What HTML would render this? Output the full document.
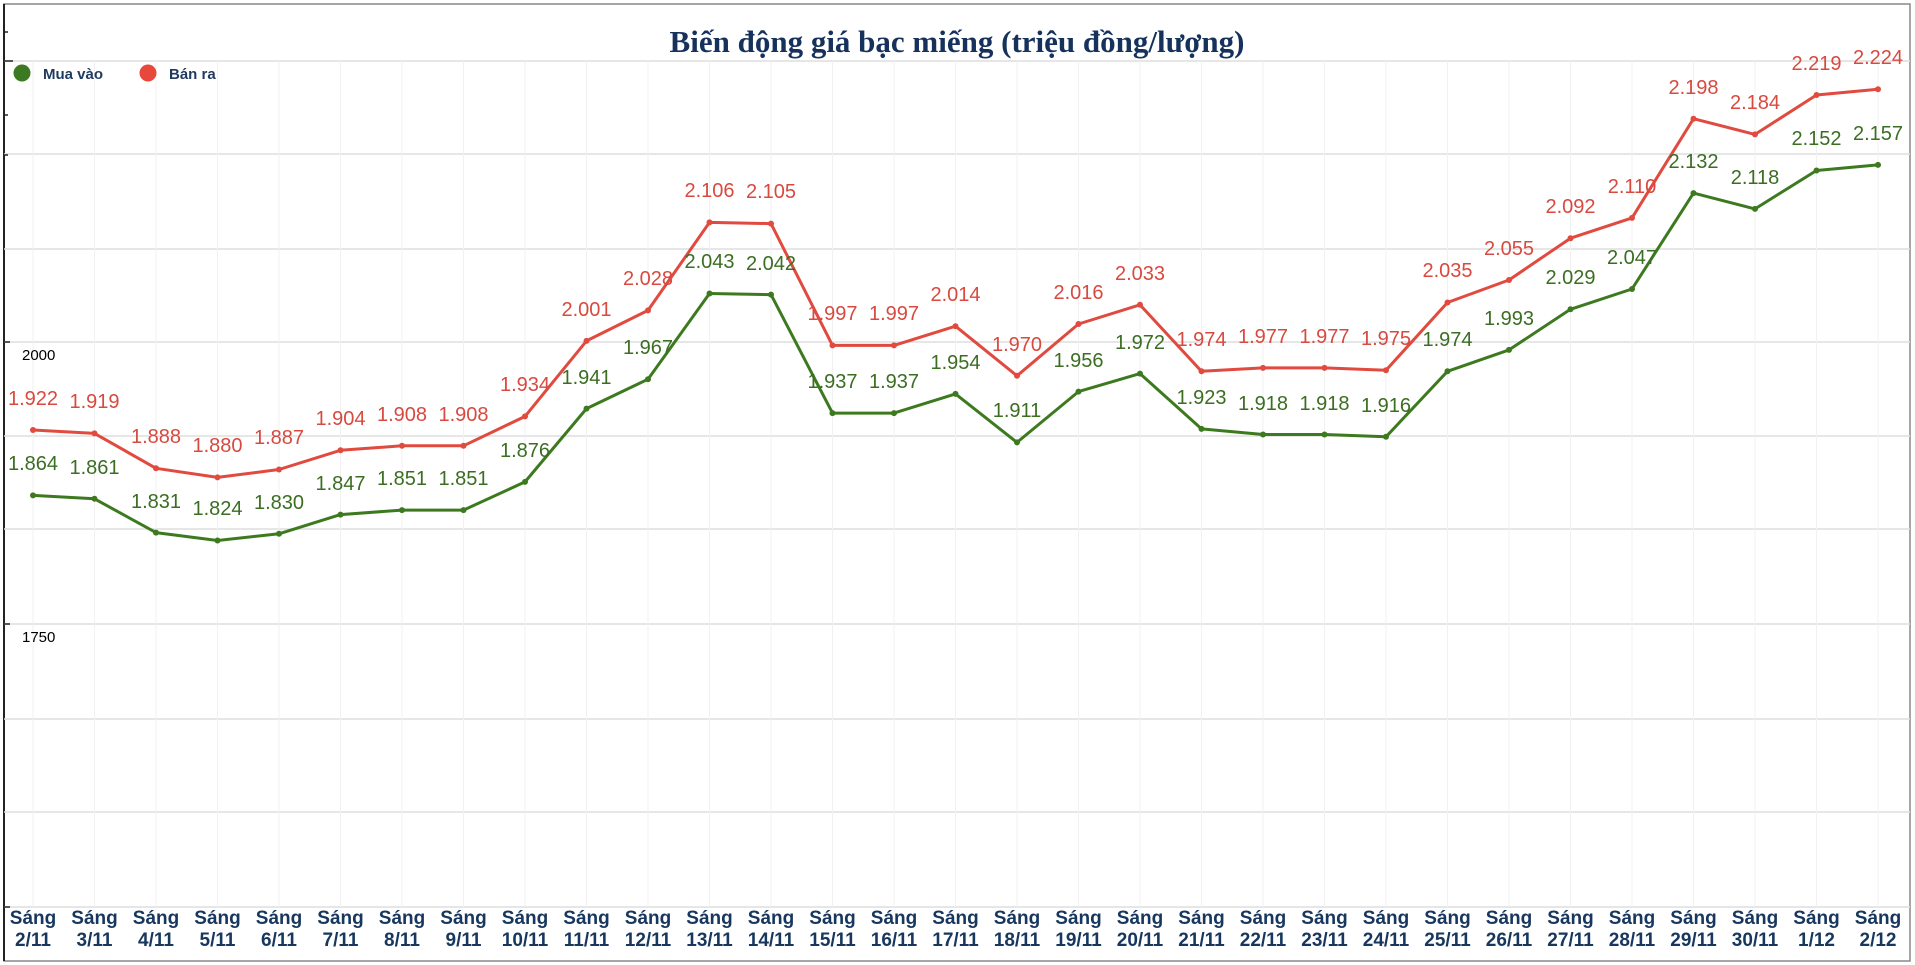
<!DOCTYPE html>
<html><head><meta charset="utf-8"><style>
html,body{margin:0;padding:0;background:#fff;width:1915px;height:965px;overflow:hidden}
svg{display:block}
.t{font-family:"Liberation Serif",serif;font-weight:bold;font-size:31px;fill:#16325c}
.lg{font-family:"Liberation Sans",sans-serif;font-weight:bold;font-size:15px;fill:#1f3a5f}
.x{font-family:"Liberation Sans",sans-serif;font-weight:bold;font-size:19px;fill:#17375e}
.g text{font-family:"Liberation Sans","DejaVu Sans",sans-serif;font-size:20px;fill:#3b6e22;text-anchor:middle}
.r text{font-family:"Liberation Sans","DejaVu Sans",sans-serif;font-size:20px;fill:#d8493f;text-anchor:middle}
.ax{font-family:"Liberation Sans",sans-serif;font-size:15px;fill:#000}
</style></head><body>
<svg width="1915" height="965" xmlns="http://www.w3.org/2000/svg">
<rect x="0" y="0" width="1915" height="965" fill="#fff"/>
<rect x="4" y="4" width="1906" height="957" fill="none" stroke="#888" stroke-width="1.5"/>
<line x1="4" y1="4" x2="4" y2="961" stroke="#222" stroke-width="2"/>
<g stroke="#ddd" stroke-width="1.5">
<line x1="4" y1="61" x2="1910" y2="61"/><line x1="4" y1="154" x2="1910" y2="154"/><line x1="4" y1="249" x2="1910" y2="249"/><line x1="4" y1="342" x2="1910" y2="342"/><line x1="4" y1="436" x2="1910" y2="436"/><line x1="4" y1="529" x2="1910" y2="529"/><line x1="4" y1="624" x2="1910" y2="624"/><line x1="4" y1="719" x2="1910" y2="719"/><line x1="4" y1="812" x2="1910" y2="812"/><line x1="4" y1="907" x2="1910" y2="907"/>
</g>
<g stroke="#f1f1f1" stroke-width="1">
<line x1="33" y1="61" x2="33" y2="907"/><line x1="94.5" y1="61" x2="94.5" y2="907"/><line x1="156" y1="61" x2="156" y2="907"/><line x1="217.5" y1="61" x2="217.5" y2="907"/><line x1="279" y1="61" x2="279" y2="907"/><line x1="340.5" y1="61" x2="340.5" y2="907"/><line x1="402" y1="61" x2="402" y2="907"/><line x1="463.5" y1="61" x2="463.5" y2="907"/><line x1="525" y1="61" x2="525" y2="907"/><line x1="586.5" y1="61" x2="586.5" y2="907"/><line x1="648" y1="61" x2="648" y2="907"/><line x1="709.5" y1="61" x2="709.5" y2="907"/><line x1="771" y1="61" x2="771" y2="907"/><line x1="832.5" y1="61" x2="832.5" y2="907"/><line x1="894" y1="61" x2="894" y2="907"/><line x1="955.5" y1="61" x2="955.5" y2="907"/><line x1="1017" y1="61" x2="1017" y2="907"/><line x1="1078.5" y1="61" x2="1078.5" y2="907"/><line x1="1140" y1="61" x2="1140" y2="907"/><line x1="1201.5" y1="61" x2="1201.5" y2="907"/><line x1="1263" y1="61" x2="1263" y2="907"/><line x1="1324.5" y1="61" x2="1324.5" y2="907"/><line x1="1386" y1="61" x2="1386" y2="907"/><line x1="1447.5" y1="61" x2="1447.5" y2="907"/><line x1="1509" y1="61" x2="1509" y2="907"/><line x1="1570.5" y1="61" x2="1570.5" y2="907"/><line x1="1632" y1="61" x2="1632" y2="907"/><line x1="1693.5" y1="61" x2="1693.5" y2="907"/><line x1="1755" y1="61" x2="1755" y2="907"/><line x1="1816.5" y1="61" x2="1816.5" y2="907"/><line x1="1878" y1="61" x2="1878" y2="907"/>
</g>
<g stroke="#222" stroke-width="1.5">
<line x1="4" y1="61" x2="13" y2="61"/><line x1="4" y1="32" x2="8" y2="32"/><line x1="4" y1="115" x2="8" y2="115"/><line x1="4" y1="155" x2="8" y2="155"/><line x1="4" y1="342" x2="10" y2="342"/><line x1="4" y1="624" x2="10" y2="624"/><line x1="4" y1="907" x2="10" y2="907"/>
</g>
<text class="ax" x="22" y="360">2000</text>
<text class="ax" x="22" y="642">1750</text>
<text class="t" x="957" y="52" text-anchor="middle">Biến động giá bạc miếng (triệu đồng/lượng)</text>
<circle cx="22" cy="73" r="8.5" fill="#3b7a22"/><text class="lg" x="43" y="79">Mua vào</text>
<circle cx="148" cy="73" r="8.5" fill="#e8473c"/><text class="lg" x="169" y="79">Bán ra</text>

<polyline fill="none" stroke="#e04a3f" stroke-width="3" stroke-linejoin="round" points="33,430 94.5,433.4 156,468.3 217.5,477.4 279,469.5 340.5,450.3 402,445.8 463.5,445.8 525,416.4 586.5,340.9 648,310.4 709.5,222.4 771,223.6 832.5,345.4 894,345.4 955.5,326.2 1017,375.8 1078.5,324 1140,304.8 1201.5,371.3 1263,367.9 1324.5,367.9 1386,370.2 1447.5,302.5 1509,280 1570.5,238.2 1632,217.9 1693.5,118.7 1755,134.4 1816.5,95 1878,89.3"/>
<polyline fill="none" stroke="#3d7a1f" stroke-width="3" stroke-linejoin="round" points="33,495.4 94.5,498.8 156,532.6 217.5,540.5 279,533.8 340.5,514.6 402,510.1 463.5,510.1 525,481.9 586.5,408.6 648,379.2 709.5,293.5 771,294.6 832.5,413.1 894,413.1 955.5,393.9 1017,442.4 1078.5,391.6 1140,373.6 1201.5,428.9 1263,434.5 1324.5,434.5 1386,436.8 1447.5,371.3 1509,349.9 1570.5,309.3 1632,289 1693.5,193.1 1755,208.9 1816.5,170.5 1878,164.9"/>

<g class="r">
<text x="33" y="405">1.922</text><text x="94.5" y="408">1.919</text><text x="156" y="443">1.888</text><text x="217.5" y="452">1.880</text><text x="279" y="444">1.887</text><text x="340.5" y="425">1.904</text><text x="402" y="421">1.908</text><text x="463.5" y="421">1.908</text><text x="525" y="391">1.934</text><text x="586.5" y="316">2.001</text><text x="648" y="285">2.028</text><text x="709.5" y="197">2.106</text><text x="771" y="198">2.105</text><text x="832.5" y="320">1.997</text><text x="894" y="320">1.997</text><text x="955.5" y="301">2.014</text><text x="1017" y="351">1.970</text><text x="1078.5" y="299">2.016</text><text x="1140" y="280">2.033</text><text x="1201.5" y="346">1.974</text><text x="1263" y="343">1.977</text><text x="1324.5" y="343">1.977</text><text x="1386" y="345">1.975</text><text x="1447.5" y="277">2.035</text><text x="1509" y="255">2.055</text><text x="1570.5" y="213">2.092</text><text x="1632" y="193">2.110</text><text x="1693.5" y="94">2.198</text><text x="1755" y="109">2.184</text><text x="1816.5" y="70">2.219</text><text x="1878" y="64">2.224</text>
</g>
<g class="g">
<text x="33" y="470">1.864</text><text x="94.5" y="474">1.861</text><text x="156" y="508">1.831</text><text x="217.5" y="515">1.824</text><text x="279" y="509">1.830</text><text x="340.5" y="490">1.847</text><text x="402" y="485">1.851</text><text x="463.5" y="485">1.851</text><text x="525" y="457">1.876</text><text x="586.5" y="384">1.941</text><text x="648" y="354">1.967</text><text x="709.5" y="268">2.043</text><text x="771" y="270">2.042</text><text x="832.5" y="388">1.937</text><text x="894" y="388">1.937</text><text x="955.5" y="369">1.954</text><text x="1017" y="417">1.911</text><text x="1078.5" y="367">1.956</text><text x="1140" y="349">1.972</text><text x="1201.5" y="404">1.923</text><text x="1263" y="410">1.918</text><text x="1324.5" y="410">1.918</text><text x="1386" y="412">1.916</text><text x="1447.5" y="346">1.974</text><text x="1509" y="325">1.993</text><text x="1570.5" y="284">2.029</text><text x="1632" y="264">2.047</text><text x="1693.5" y="168">2.132</text><text x="1755" y="184">2.118</text><text x="1816.5" y="145">2.152</text><text x="1878" y="140">2.157</text>
</g>
<g fill="#e04a3f">
<circle cx="33" cy="430" r="3"/><circle cx="94.5" cy="433.4" r="3"/><circle cx="156" cy="468.3" r="3"/><circle cx="217.5" cy="477.4" r="3"/><circle cx="279" cy="469.5" r="3"/><circle cx="340.5" cy="450.3" r="3"/><circle cx="402" cy="445.8" r="3"/><circle cx="463.5" cy="445.8" r="3"/><circle cx="525" cy="416.4" r="3"/><circle cx="586.5" cy="340.9" r="3"/><circle cx="648" cy="310.4" r="3"/><circle cx="709.5" cy="222.4" r="3"/><circle cx="771" cy="223.6" r="3"/><circle cx="832.5" cy="345.4" r="3"/><circle cx="894" cy="345.4" r="3"/><circle cx="955.5" cy="326.2" r="3"/><circle cx="1017" cy="375.8" r="3"/><circle cx="1078.5" cy="324" r="3"/><circle cx="1140" cy="304.8" r="3"/><circle cx="1201.5" cy="371.3" r="3"/><circle cx="1263" cy="367.9" r="3"/><circle cx="1324.5" cy="367.9" r="3"/><circle cx="1386" cy="370.2" r="3"/><circle cx="1447.5" cy="302.5" r="3"/><circle cx="1509" cy="280" r="3"/><circle cx="1570.5" cy="238.2" r="3"/><circle cx="1632" cy="217.9" r="3"/><circle cx="1693.5" cy="118.7" r="3"/><circle cx="1755" cy="134.4" r="3"/><circle cx="1816.5" cy="95" r="3"/><circle cx="1878" cy="89.3" r="3"/>
</g>
<g fill="#3d7a1f">
<circle cx="33" cy="495.4" r="3"/><circle cx="94.5" cy="498.8" r="3"/><circle cx="156" cy="532.6" r="3"/><circle cx="217.5" cy="540.5" r="3"/><circle cx="279" cy="533.8" r="3"/><circle cx="340.5" cy="514.6" r="3"/><circle cx="402" cy="510.1" r="3"/><circle cx="463.5" cy="510.1" r="3"/><circle cx="525" cy="481.9" r="3"/><circle cx="586.5" cy="408.6" r="3"/><circle cx="648" cy="379.2" r="3"/><circle cx="709.5" cy="293.5" r="3"/><circle cx="771" cy="294.6" r="3"/><circle cx="832.5" cy="413.1" r="3"/><circle cx="894" cy="413.1" r="3"/><circle cx="955.5" cy="393.9" r="3"/><circle cx="1017" cy="442.4" r="3"/><circle cx="1078.5" cy="391.6" r="3"/><circle cx="1140" cy="373.6" r="3"/><circle cx="1201.5" cy="428.9" r="3"/><circle cx="1263" cy="434.5" r="3"/><circle cx="1324.5" cy="434.5" r="3"/><circle cx="1386" cy="436.8" r="3"/><circle cx="1447.5" cy="371.3" r="3"/><circle cx="1509" cy="349.9" r="3"/><circle cx="1570.5" cy="309.3" r="3"/><circle cx="1632" cy="289" r="3"/><circle cx="1693.5" cy="193.1" r="3"/><circle cx="1755" cy="208.9" r="3"/><circle cx="1816.5" cy="170.5" r="3"/><circle cx="1878" cy="164.9" r="3"/>
</g>
<g class="x" text-anchor="middle">
<text x="33" y="924">Sáng</text><text x="33" y="946">2/11</text>
<text x="94.5" y="924">Sáng</text><text x="94.5" y="946">3/11</text>
<text x="156" y="924">Sáng</text><text x="156" y="946">4/11</text>
<text x="217.5" y="924">Sáng</text><text x="217.5" y="946">5/11</text>
<text x="279" y="924">Sáng</text><text x="279" y="946">6/11</text>
<text x="340.5" y="924">Sáng</text><text x="340.5" y="946">7/11</text>
<text x="402" y="924">Sáng</text><text x="402" y="946">8/11</text>
<text x="463.5" y="924">Sáng</text><text x="463.5" y="946">9/11</text>
<text x="525" y="924">Sáng</text><text x="525" y="946">10/11</text>
<text x="586.5" y="924">Sáng</text><text x="586.5" y="946">11/11</text>
<text x="648" y="924">Sáng</text><text x="648" y="946">12/11</text>
<text x="709.5" y="924">Sáng</text><text x="709.5" y="946">13/11</text>
<text x="771" y="924">Sáng</text><text x="771" y="946">14/11</text>
<text x="832.5" y="924">Sáng</text><text x="832.5" y="946">15/11</text>
<text x="894" y="924">Sáng</text><text x="894" y="946">16/11</text>
<text x="955.5" y="924">Sáng</text><text x="955.5" y="946">17/11</text>
<text x="1017" y="924">Sáng</text><text x="1017" y="946">18/11</text>
<text x="1078.5" y="924">Sáng</text><text x="1078.5" y="946">19/11</text>
<text x="1140" y="924">Sáng</text><text x="1140" y="946">20/11</text>
<text x="1201.5" y="924">Sáng</text><text x="1201.5" y="946">21/11</text>
<text x="1263" y="924">Sáng</text><text x="1263" y="946">22/11</text>
<text x="1324.5" y="924">Sáng</text><text x="1324.5" y="946">23/11</text>
<text x="1386" y="924">Sáng</text><text x="1386" y="946">24/11</text>
<text x="1447.5" y="924">Sáng</text><text x="1447.5" y="946">25/11</text>
<text x="1509" y="924">Sáng</text><text x="1509" y="946">26/11</text>
<text x="1570.5" y="924">Sáng</text><text x="1570.5" y="946">27/11</text>
<text x="1632" y="924">Sáng</text><text x="1632" y="946">28/11</text>
<text x="1693.5" y="924">Sáng</text><text x="1693.5" y="946">29/11</text>
<text x="1755" y="924">Sáng</text><text x="1755" y="946">30/11</text>
<text x="1816.5" y="924">Sáng</text><text x="1816.5" y="946">1/12</text>
<text x="1878" y="924">Sáng</text><text x="1878" y="946">2/12</text>
</g>
</svg>
</body></html>
